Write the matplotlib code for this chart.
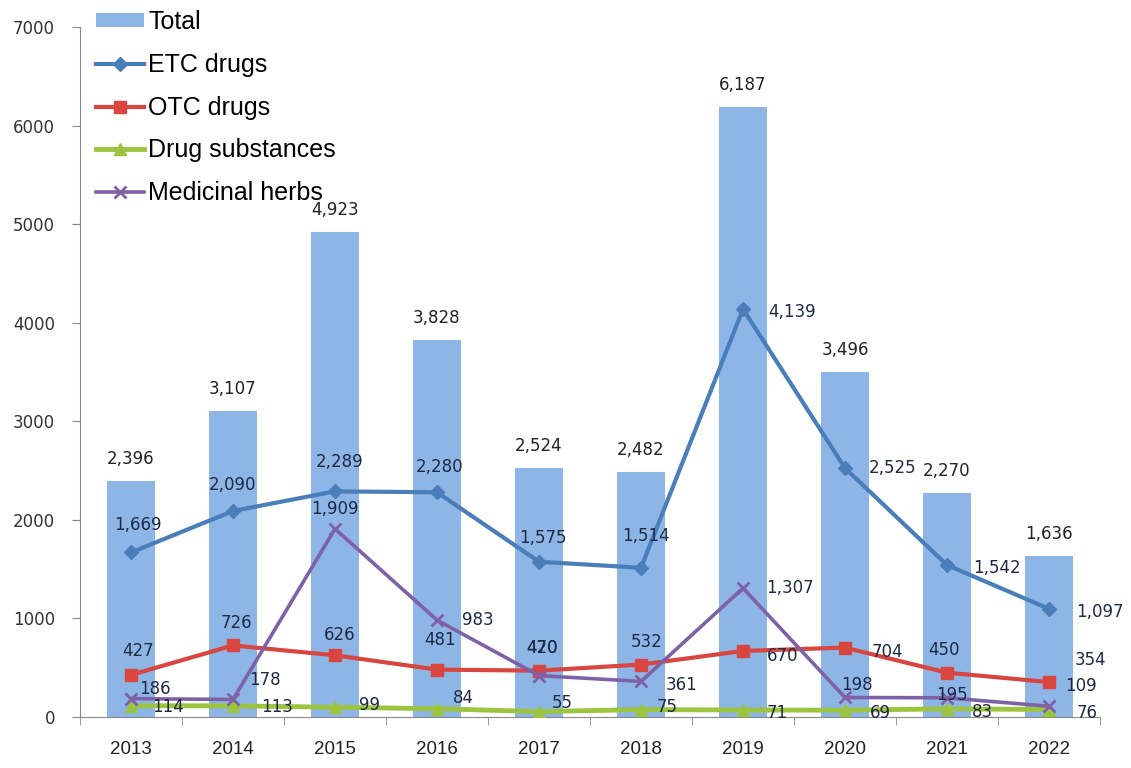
import matplotlib
matplotlib.use("Agg")
import matplotlib.pyplot as plt
import numpy as np

YEARS = ["2013", "2014", "2015", "2016", "2017", "2018", "2019", "2020", "2021", "2022"]
TOTAL = [2396, 3107, 4923, 3828, 2524, 2482, 6187, 3496, 2270, 1636]
ETC_DRUGS = [1669, 2090, 2289, 2280, 1575, 1514, 4139, 2525, 1542, 1097]
OTC_DRUGS = [427, 726, 626, 481, 470, 532, 670, 704, 450, 354]
DRUG_SUBSTANCES = [114, 113, 99, 84, 55, 75, 71, 69, 83, 76]
MEDICINAL_HERBS = [186, 178, 1909, 983, 420, 361, 1307, 198, 195, 109]

# label offsets in pixels (dx, dy) from each point
ETC_OFFSETS = [(7, 27), (0, 26), (5, 29), (3, 25), (4, 24), (5, 32), (49, -3), (48, 0), (50, -3), (51, -3)]
OTC_OFFSETS = [(7, 24), (3, 22), (5, 20), (3, 30), (3, 23), (6, 23), (40, -5), (42, -4), (-3, 23), (42, 22)]
SUB_OFFSETS = [(37, -1), (44, -1), (35, 2), (26, 11), (23, 9), (26, 3), (34, -3), (35, -3), (35, -3), (38, -3)]
HERB_OFFSETS = [(24, 10), (32, 19), (0, 20), (41, 0), (3, 28), (41, -4), (47, 0), (12, 12), (5, 3), (32, 20)]

BAR_COLOR = "#8DB6E6"
ETC_COLOR = "#4A7EBB"
OTC_COLOR = "#D9463F"
SUB_COLOR = "#9DC43F"
HERB_COLOR = "#7E62A8"
LABEL_COLOR = "#1E2A44"

W, H = 1131, 768
fig = plt.figure(figsize=(W / 100, H / 100), dpi=100)
ax = fig.add_axes([80 / W, 51 / H, 1020 / W, 690 / H])

x = np.arange(len(YEARS))
bars = ax.bar(x, TOTAL, width=0.47, color=BAR_COLOR, label="Total", zorder=1)
for xi, v in zip(x, TOTAL):
    ax.annotate(f"{v:,}", (xi, v), xytext=(0, 22), textcoords="offset pixels",
                ha="center", va="center", fontsize=12, color="#222222")

series = [
    ("ETC drugs", ETC_DRUGS, ETC_COLOR, "D", 7, 3.0, ETC_OFFSETS),
    ("OTC drugs", OTC_DRUGS, OTC_COLOR, "s", 9, 3.0, OTC_OFFSETS),
    ("Drug substances", DRUG_SUBSTANCES, SUB_COLOR, "^", 8, 3.5, SUB_OFFSETS),
    ("Medicinal herbs", MEDICINAL_HERBS, HERB_COLOR, "x", 9, 2.6, HERB_OFFSETS),
]
handles = [bars]
for i, (name, vals, color, marker, ms, lw, offsets) in enumerate(series):
    line, = ax.plot(x, vals, color=color, marker=marker, markersize=ms, linewidth=lw,
                    markeredgewidth=2 if marker == "x" else 1, label=name, zorder=3 + i)
    handles.append(line)
    for xi, v, (dx, dy) in zip(x, vals, offsets):
        ax.annotate(f"{v:,}", (xi, v), xytext=(dx, dy), textcoords="offset pixels",
                    ha="center", va="center", fontsize=12, color=LABEL_COLOR, zorder=10)

ax.set_xlim(-0.5, len(YEARS) - 0.5)
ax.set_ylim(0, 7000)
ax.set_yticks(np.arange(0, 7001, 1000))
ax.set_xticks(x)
ax.set_xticklabels(YEARS, fontfamily="Liberation Sans", fontsize=13.5)
ax.set_xticks(np.arange(-0.5, len(YEARS)), minor=True)
ax.tick_params(axis="x", which="major", length=0, pad=17, colors="#222222")
ax.tick_params(axis="x", which="minor", length=6, color="#888888", direction="out")
ax.tick_params(axis="y", length=6, color="#888888", pad=12, labelsize=12, labelcolor="#333333")

for side in ("top", "right"):
    ax.spines[side].set_visible(False)
for side in ("left", "bottom"):
    ax.spines[side].set_color("#888888")

ax.legend(handles=handles, labels=[h.get_label() for h in handles],
          loc="upper left", bbox_to_anchor=(96 / W, 1 - 10 / H),
          bbox_transform=fig.transFigure, frameon=False,
          prop={"family": "Liberation Sans", "size": 18},
          handlelength=1.9, handleheight=0.5, handletextpad=0.2,
          labelspacing=0.75, borderpad=0, borderaxespad=0)

fig.savefig("out.png", dpi=100)
